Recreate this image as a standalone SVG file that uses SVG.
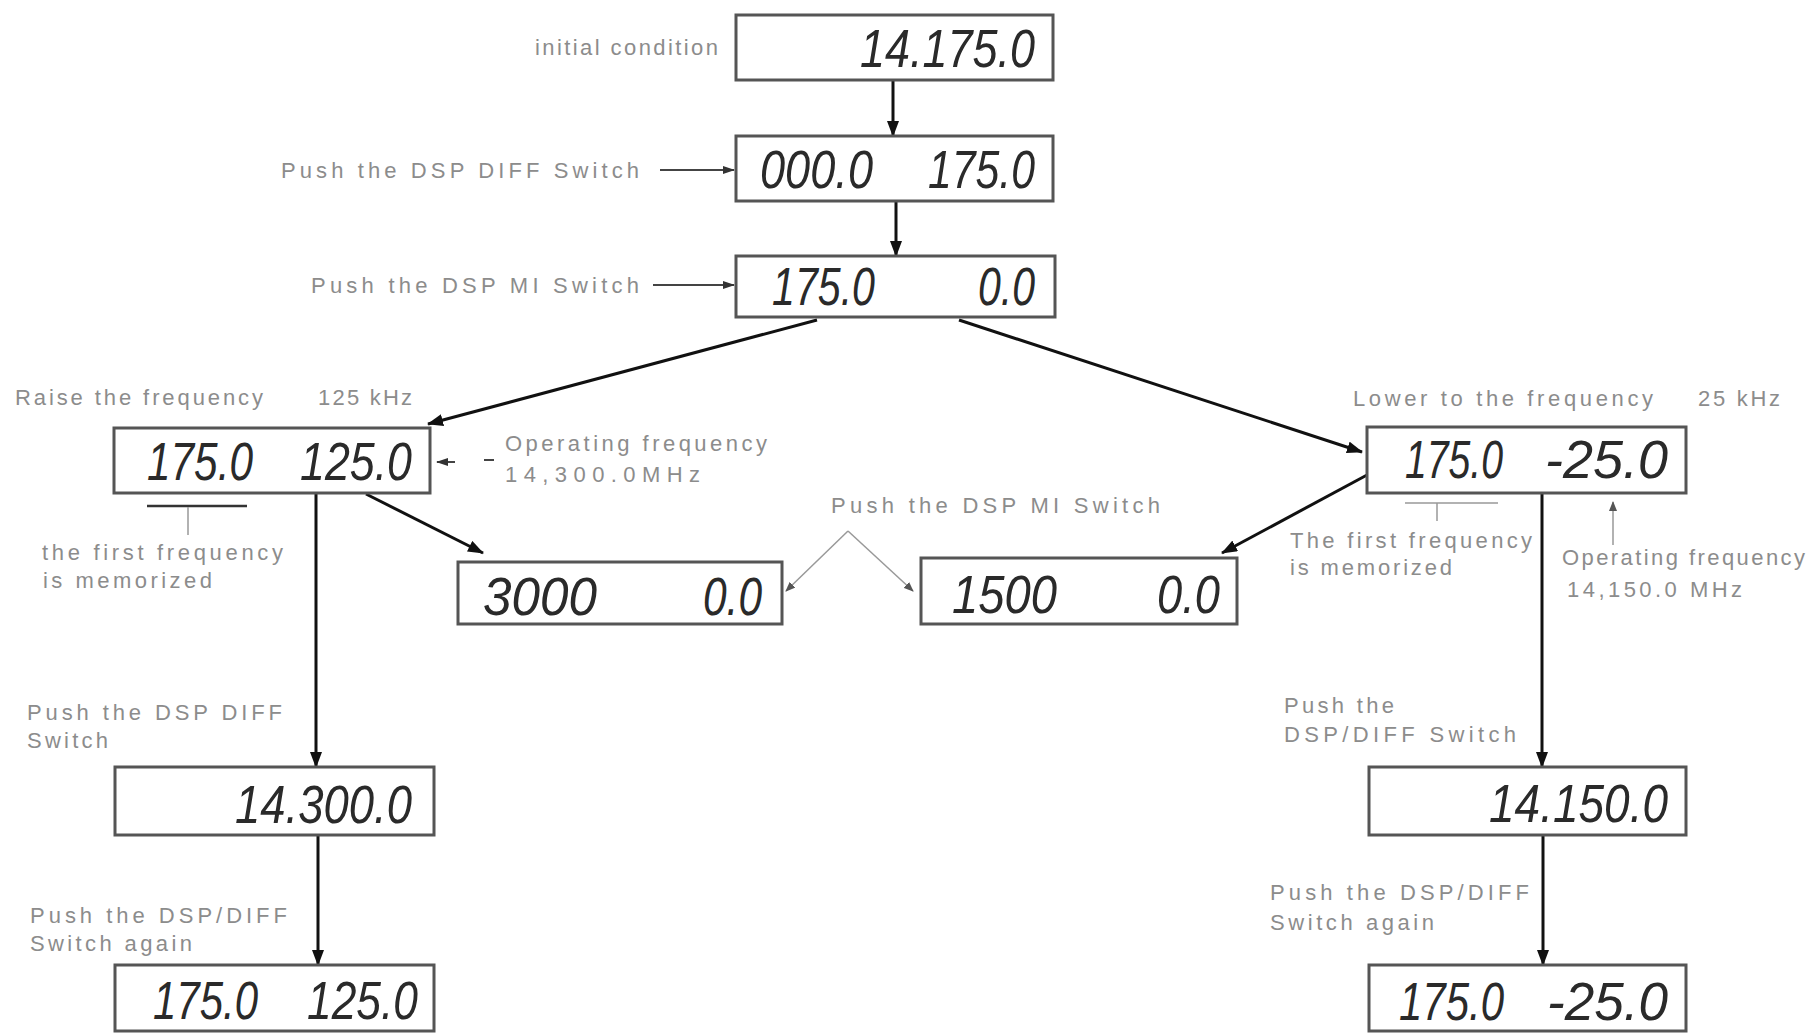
<svg xmlns="http://www.w3.org/2000/svg" width="1810" height="1033" viewBox="0 0 1810 1033">
<style>
.bg{fill:#fff}
.box{fill:#fff;stroke:#555;stroke-width:3}
.lcd{font-family:"Liberation Sans",Arial,sans-serif;font-style:italic;font-size:54px;fill:#2a2a2a}
.lbl{font-family:"Liberation Sans",Arial,sans-serif;font-size:22px;fill:#8c8c8c}
.con{stroke:#111;stroke-width:3;fill:none}
.thin{stroke:#444;stroke-width:2;fill:none}
.hair{stroke:#999;stroke-width:1.5;fill:none}
</style>
<defs>
<marker id="ah" markerUnits="userSpaceOnUse" markerWidth="16" markerHeight="12" refX="15" refY="6" orient="auto"><path d="M0,0 L16,6 L0,12 z" fill="#111"/></marker>
<marker id="ahs" markerUnits="userSpaceOnUse" markerWidth="12" markerHeight="8" refX="11" refY="4" orient="auto"><path d="M0,0 L12,4 L0,8 z" fill="#333"/></marker>
<marker id="ahg" markerUnits="userSpaceOnUse" markerWidth="10" markerHeight="8" refX="9" refY="4" orient="auto"><path d="M0,0 L10,4 L0,8 z" fill="#555"/></marker>
</defs>
<rect class="bg" x="0" y="0" width="1810" height="1033"/>

<g id="connectors">
<line class="con" x1="893" y1="80" x2="893" y2="136" marker-end="url(#ah)"/>
<line class="con" x1="896" y1="201" x2="896" y2="256" marker-end="url(#ah)"/>
<line class="con" x1="817" y1="320" x2="428" y2="424" marker-end="url(#ah)"/>
<line class="con" x1="959" y1="320" x2="1362" y2="452" marker-end="url(#ah)"/>
<line class="con" x1="366" y1="494" x2="483" y2="553" marker-end="url(#ah)"/>
<line class="con" x1="1367" y1="475" x2="1222" y2="553" marker-end="url(#ah)"/>
<line class="con" x1="316" y1="493" x2="316" y2="767" marker-end="url(#ah)"/>
<line class="con" x1="318" y1="835" x2="318" y2="965" marker-end="url(#ah)"/>
<line class="con" x1="1542" y1="493" x2="1542" y2="767" marker-end="url(#ah)"/>
<line class="con" x1="1543" y1="835" x2="1543" y2="965" marker-end="url(#ah)"/>
<line class="thin" x1="660" y1="170" x2="734" y2="170" marker-end="url(#ahs)"/>
<line class="thin" x1="653" y1="285" x2="734" y2="285" marker-end="url(#ahs)"/>
<line class="hair" x1="848" y1="531" x2="786" y2="591" marker-end="url(#ahg)"/>
<line class="hair" x1="848" y1="531" x2="913" y2="591" marker-end="url(#ahg)"/>
<line class="thin" x1="455" y1="462" x2="437" y2="462" marker-end="url(#ahs)"/>
<line class="thin" x1="484" y1="460" x2="494" y2="460"/>
<line class="hair" x1="1613" y1="545" x2="1613" y2="502" marker-end="url(#ahg)"/>
<line stroke="#333" stroke-width="2.5" x1="147" y1="506" x2="247" y2="506"/>
<line class="hair" x1="188" y1="507" x2="188" y2="535"/>
<line class="hair" x1="1405" y1="503" x2="1498" y2="503"/>
<line class="hair" x1="1437" y1="503" x2="1437" y2="521"/>
</g>

<g id="n-initial">
<rect class="box" x="736" y="15" width="317" height="65"/>
<text class="lcd" x="860" y="67" textLength="175" lengthAdjust="spacingAndGlyphs">14.175.0</text>
</g>
<g id="n-diff">
<rect class="box" x="736" y="136" width="317" height="65"/>
<text class="lcd" x="760" y="188" textLength="113" lengthAdjust="spacingAndGlyphs">000.0</text>
<text class="lcd" x="928" y="188" textLength="107" lengthAdjust="spacingAndGlyphs">175.0</text>
</g>
<g id="n-mi">
<rect class="box" x="736" y="256" width="319" height="61"/>
<text class="lcd" x="772" y="305" textLength="103" lengthAdjust="spacingAndGlyphs">175.0</text>
<text class="lcd" x="978" y="305" textLength="57" lengthAdjust="spacingAndGlyphs">0.0</text>
</g>
<g id="n-raise">
<rect class="box" x="114" y="428" width="316" height="65"/>
<text class="lcd" x="147" y="480" textLength="106" lengthAdjust="spacingAndGlyphs">175.0</text>
<text class="lcd" x="300" y="480" textLength="112" lengthAdjust="spacingAndGlyphs">125.0</text>
</g>
<g id="n-lower">
<rect class="box" x="1367" y="427" width="319" height="66"/>
<text class="lcd" x="1405" y="478" textLength="98" lengthAdjust="spacingAndGlyphs">175.0</text>
<text class="lcd" x="1545" y="478" textLength="123" lengthAdjust="spacingAndGlyphs">-25.0</text>
</g>
<g id="n-mi-raise">
<rect class="box" x="458" y="562" width="324" height="62"/>
<text class="lcd" x="483" y="615" textLength="114" lengthAdjust="spacingAndGlyphs">3000</text>
<text class="lcd" x="703" y="615" textLength="59" lengthAdjust="spacingAndGlyphs">0.0</text>
</g>
<g id="n-mi-lower">
<rect class="box" x="921" y="558" width="316" height="66"/>
<text class="lcd" x="952" y="613" textLength="105" lengthAdjust="spacingAndGlyphs">1500</text>
<text class="lcd" x="1157" y="613" textLength="63" lengthAdjust="spacingAndGlyphs">0.0</text>
</g>
<g id="n-diff-raise">
<rect class="box" x="115" y="767" width="319" height="68"/>
<text class="lcd" x="235" y="823" textLength="177" lengthAdjust="spacingAndGlyphs">14.300.0</text>
</g>
<g id="n-diff-lower">
<rect class="box" x="1369" y="767" width="317" height="68"/>
<text class="lcd" x="1489" y="822" textLength="179" lengthAdjust="spacingAndGlyphs">14.150.0</text>
</g>
<g id="n-again-raise">
<rect class="box" x="115" y="965" width="319" height="66"/>
<text class="lcd" x="153" y="1019" textLength="105" lengthAdjust="spacingAndGlyphs">175.0</text>
<text class="lcd" x="307" y="1019" textLength="111" lengthAdjust="spacingAndGlyphs">125.0</text>
</g>
<g id="n-again-lower">
<rect class="box" x="1369" y="965" width="317" height="66"/>
<text class="lcd" x="1399" y="1020" textLength="105" lengthAdjust="spacingAndGlyphs">175.0</text>
<text class="lcd" x="1547" y="1020" textLength="121" lengthAdjust="spacingAndGlyphs">-25.0</text>
</g>

<g id="labels">
<text class="lbl" x="535" y="55" textLength="183" lengthAdjust="spacing">initial condition</text>
<text class="lbl" x="281" y="178" textLength="358" lengthAdjust="spacing">Push the DSP DIFF Switch</text>
<text class="lbl" x="311" y="293" textLength="328" lengthAdjust="spacing">Push the DSP MI Switch</text>
<text class="lbl" x="15" y="405" textLength="248" lengthAdjust="spacing">Raise the frequency</text>
<text class="lbl" x="318" y="405" textLength="94" lengthAdjust="spacing">125 kHz</text>
<text class="lbl" x="1353" y="406" textLength="300" lengthAdjust="spacing">Lower to the frequency</text>
<text class="lbl" x="1698" y="406" textLength="82" lengthAdjust="spacing">25 kHz</text>
<text class="lbl" x="505" y="451" textLength="262" lengthAdjust="spacing">Operating  frequency</text>
<text class="lbl" x="505" y="482" textLength="195" lengthAdjust="spacing">14,300.0MHz</text>
<text class="lbl" x="42" y="560" textLength="241" lengthAdjust="spacing">the first frequency</text>
<text class="lbl" x="43" y="588" textLength="169" lengthAdjust="spacing">is memorized</text>
<text class="lbl" x="831" y="513" textLength="329" lengthAdjust="spacing">Push the DSP MI Switch</text>
<text class="lbl" x="1290" y="548" textLength="242" lengthAdjust="spacing">The first frequency</text>
<text class="lbl" x="1290" y="575" textLength="162" lengthAdjust="spacing">is memorized</text>
<text class="lbl" x="1562" y="565" textLength="243" lengthAdjust="spacing">Operating frequency</text>
<text class="lbl" x="1567" y="597" textLength="175" lengthAdjust="spacing">14,150.0 MHz</text>
<text class="lbl" x="27" y="720" textLength="255" lengthAdjust="spacing">Push the DSP DIFF</text>
<text class="lbl" x="27" y="748" textLength="81" lengthAdjust="spacing">Switch</text>
<text class="lbl" x="30" y="923" textLength="257" lengthAdjust="spacing">Push the DSP/DIFF</text>
<text class="lbl" x="30" y="951" textLength="162" lengthAdjust="spacing">Switch again</text>
<text class="lbl" x="1284" y="713" textLength="110" lengthAdjust="spacing">Push the</text>
<text class="lbl" x="1284" y="742" textLength="232" lengthAdjust="spacing">DSP/DIFF Switch</text>
<text class="lbl" x="1270" y="900" textLength="259" lengthAdjust="spacing">Push the DSP/DIFF</text>
<text class="lbl" x="1270" y="930" textLength="164" lengthAdjust="spacing">Switch again</text>
</g>
</svg>
